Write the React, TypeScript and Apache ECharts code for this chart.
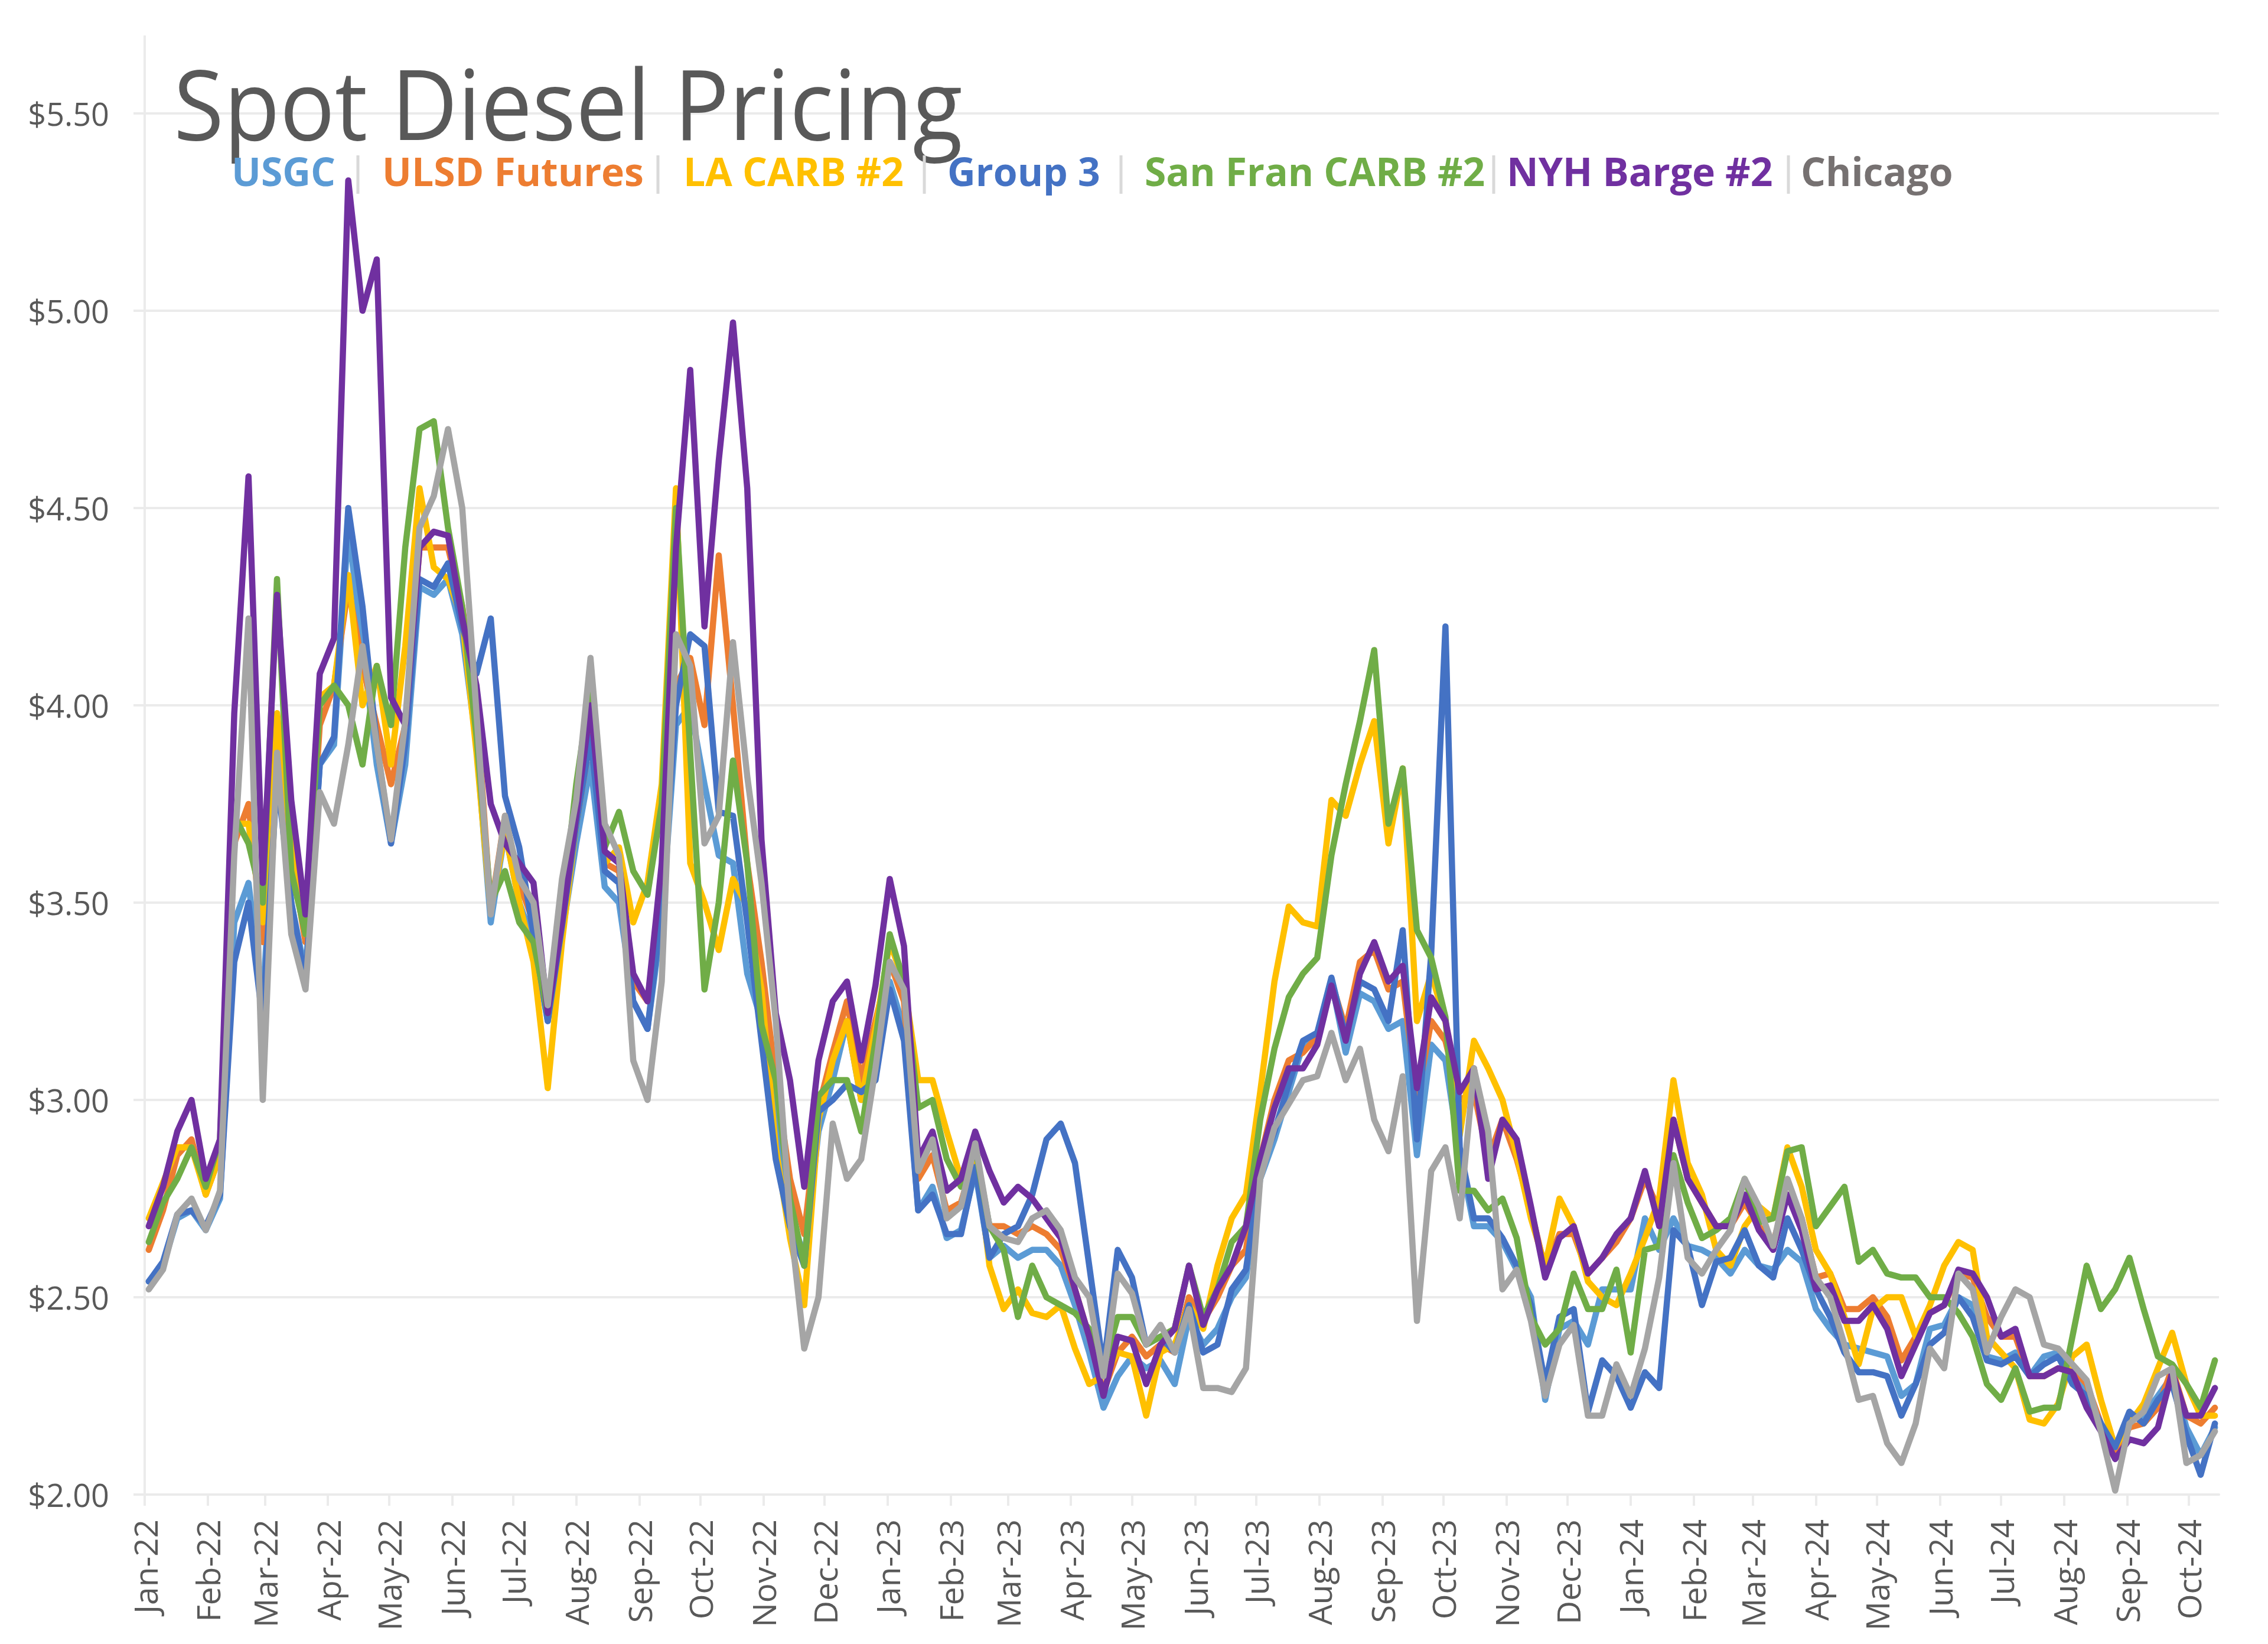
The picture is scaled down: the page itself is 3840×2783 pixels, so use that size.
import React, { useEffect, useRef } from "react";
import * as echarts from "echarts";

// ---------- data ----------
const monthLabels = [
  "Jan-22", "Feb-22", "Mar-22", "Apr-22", "May-22", "Jun-22", "Jul-22", "Aug-22", "Sep-22", "Oct-22", "Nov-22", "Dec-22",
  "Jan-23", "Feb-23", "Mar-23", "Apr-23", "May-23", "Jun-23", "Jul-23", "Aug-23", "Sep-23", "Oct-23", "Nov-23", "Dec-23",
  "Jan-24", "Feb-24", "Mar-24", "Apr-24", "May-24", "Jun-24", "Jul-24", "Aug-24", "Sep-24", "Oct-24",
];
const TOTAL_DAYS = 1020; // 2022-01-01 .. 2024-10-16
const FIRST_DAY = 2; // first weekly observation: 2022-01-03
const STEP_DAYS = 7;

const usgc = [
  2.54, 2.58, 2.70, 2.72, 2.67, 2.75, 3.45, 3.55, 3.25, 3.85,
  3.50, 3.32, 3.85, 3.90, 4.45, 4.15, 3.85, 3.65, 3.85, 4.30,
  4.28, 4.32, 4.18, 3.90, 3.45, 3.68, 3.50, 3.40, 3.20, 3.42,
  3.65, 3.85, 3.54, 3.50, 3.25, 3.18, 3.45, 3.95, 4.00, 3.80,
  3.62, 3.60, 3.32, 3.20, 2.95, 2.72, 2.60, 2.92, 3.05, 3.20,
  3.00, 3.15, 3.30, 3.18, 2.72, 2.78, 2.65, 2.67, 2.82, 2.60,
  2.63, 2.60, 2.62, 2.62, 2.58, 2.48, 2.36, 2.22, 2.30, 2.35,
  2.32, 2.34, 2.28, 2.45, 2.38, 2.42, 2.50, 2.55, 2.80, 2.90,
  3.02, 3.14, 3.16, 3.30, 3.12, 3.27, 3.25, 3.18, 3.20, 2.86,
  3.14, 3.10, 2.86, 2.68, 2.68, 2.64, 2.57, 2.50, 2.24, 2.42,
  2.44, 2.38, 2.52, 2.52, 2.52, 2.70, 2.62, 2.70, 2.63, 2.62,
  2.60, 2.56, 2.62, 2.58, 2.57, 2.62, 2.59, 2.47, 2.42, 2.38,
  2.37, 2.36, 2.35, 2.25, 2.28, 2.42, 2.43, 2.50, 2.48, 2.35,
  2.34, 2.36, 2.30, 2.35, 2.36, 2.30, 2.27, 2.18, 2.12, 2.20,
  2.20, 2.25, 2.30, 2.17, 2.10, 2.17,
];
const ulsdFutures = [
  2.62, 2.72, 2.86, 2.90, 2.76, 2.86, 3.65, 3.75, 3.40, 3.95,
  3.62, 3.40, 3.95, 4.05, 4.30, 4.10, 3.95, 3.80, 3.95, 4.40,
  4.40, 4.40, 4.25, 4.00, 3.48, 3.72, 3.55, 3.45, 3.22, 3.45,
  3.70, 3.92, 3.60, 3.58, 3.30, 3.25, 3.55, 4.05, 4.12, 3.95,
  4.38, 4.00, 3.60, 3.35, 3.05, 2.80, 2.66, 2.98, 3.12, 3.25,
  3.05, 3.20, 3.35, 3.25, 2.80, 2.86, 2.72, 2.74, 2.86, 2.68,
  2.68, 2.66, 2.68, 2.66, 2.62, 2.52, 2.40, 2.26, 2.36, 2.40,
  2.35, 2.38, 2.36, 2.50, 2.44, 2.50, 2.58, 2.62, 2.85, 3.00,
  3.10, 3.12, 3.16, 3.30, 3.18, 3.35, 3.38, 3.28, 3.30, 3.00,
  3.20, 3.15, 3.00, 3.02, 2.85, 2.95, 2.85, 2.72, 2.57, 2.66,
  2.66, 2.56, 2.60, 2.64, 2.70, 2.80, 2.72, 2.95, 2.80, 2.74,
  2.68, 2.68, 2.74, 2.68, 2.64, 2.76, 2.70, 2.55, 2.56, 2.47,
  2.47, 2.50, 2.45, 2.34, 2.40, 2.46, 2.48, 2.56, 2.55, 2.45,
  2.40, 2.40, 2.30, 2.30, 2.32, 2.32, 2.28, 2.18, 2.10, 2.17,
  2.18, 2.22, 2.32, 2.20, 2.18, 2.22,
];
const laCarb = [
  2.70, 2.79, 2.88, 2.88, 2.76, 2.86, 3.70, 3.70, 3.45, 3.98,
  3.65, 3.42, 4.02, 4.05, 4.33, 4.00, 4.10, 3.85, 4.15, 4.55,
  4.35, 4.32, 4.22, 3.88, 3.48, 3.68, 3.50, 3.35, 3.03, 3.40,
  3.70, 3.93, 3.60, 3.64, 3.45, 3.55, 3.80, 4.55, 3.60, 3.50,
  3.38, 3.56, 3.49, 3.28, 2.88, 2.65, 2.48, 2.95, 3.10, 3.20,
  3.00, 3.18, 3.40, 3.30, 3.05, 3.05, 2.92, 2.80, 2.88, 2.58,
  2.47, 2.52, 2.46, 2.45, 2.48, 2.37, 2.28, 2.30, 2.36, 2.35,
  2.20, 2.36, 2.38, 2.48, 2.42, 2.58, 2.70, 2.76, 3.02, 3.30,
  3.49, 3.45, 3.44, 3.76, 3.72, 3.85, 3.96, 3.65, 3.84, 3.20,
  3.32, 3.20, 2.91, 3.15, 3.08, 3.00, 2.86, 2.70, 2.58, 2.75,
  2.68, 2.54, 2.50, 2.48, 2.56, 2.65, 2.75, 3.05, 2.84, 2.76,
  2.62, 2.58, 2.68, 2.73, 2.70, 2.88, 2.78, 2.62, 2.56, 2.45,
  2.33, 2.47, 2.50, 2.50, 2.40, 2.48, 2.58, 2.64, 2.62, 2.40,
  2.36, 2.32, 2.19, 2.18, 2.23, 2.35, 2.38, 2.24, 2.12, 2.18,
  2.23, 2.32, 2.41, 2.28, 2.20, 2.20,
];
const group3 = [
  2.54, 2.59, 2.71, 2.72, 2.68, 2.76, 3.35, 3.50, 3.20, 3.82,
  3.50, 3.30, 3.85, 3.92, 4.50, 4.25, 3.90, 3.65, 3.90, 4.32,
  4.30, 4.36, 4.20, 4.08, 4.22, 3.77, 3.64, 3.42, 3.20, 3.44,
  3.70, 3.92, 3.58, 3.55, 3.25, 3.18, 3.48, 4.00, 4.18, 4.15,
  3.73, 3.72, 3.45, 3.15, 2.85, 2.68, 2.58, 2.97, 3.00, 3.04,
  3.02, 3.05, 3.28, 3.15, 2.72, 2.76, 2.66, 2.66, 2.83, 2.60,
  2.66, 2.68, 2.76, 2.90, 2.94, 2.84, 2.58, 2.32, 2.62, 2.55,
  2.38, 2.40, 2.36, 2.48, 2.36, 2.38, 2.52, 2.57, 2.82, 2.92,
  3.04, 3.15, 3.17, 3.31, 3.16, 3.30, 3.28, 3.20, 3.43, 2.90,
  3.37, 4.20, 2.88, 2.70, 2.70, 2.65, 2.58, 2.48, 2.28, 2.45,
  2.47, 2.21, 2.34, 2.30, 2.22, 2.31, 2.27, 2.67, 2.63, 2.48,
  2.59, 2.60, 2.67, 2.58, 2.55, 2.70, 2.62, 2.52, 2.45, 2.36,
  2.31, 2.31, 2.30, 2.20, 2.28, 2.38, 2.41, 2.50, 2.45, 2.34,
  2.33, 2.35, 2.30, 2.33, 2.35, 2.28, 2.25, 2.18, 2.12, 2.21,
  2.18, 2.24, 2.28, 2.15, 2.05, 2.18,
];
const sanFranCarb = [
  2.64, 2.74, 2.80, 2.88, 2.78, 2.90, 3.72, 3.65, 3.50, 4.32,
  3.58, 3.42, 4.00, 4.05, 4.00, 3.85, 4.10, 3.95, 4.40, 4.70,
  4.72, 4.45, 4.25, 3.92, 3.50, 3.58, 3.45, 3.40, 3.22, 3.48,
  3.80, 4.05, 3.64, 3.73, 3.58, 3.52, 3.75, 4.50, 3.88, 3.28,
  3.50, 3.86, 3.60, 3.19, 3.05, 2.75, 2.58, 3.01, 3.05, 3.05,
  2.92, 3.15, 3.42, 3.30, 2.98, 3.00, 2.85, 2.78, 2.88, 2.68,
  2.62, 2.45, 2.58, 2.50, 2.48, 2.46, 2.42, 2.32, 2.45, 2.45,
  2.38, 2.40, 2.42, 2.58, 2.45, 2.52, 2.64, 2.68, 2.95, 3.13,
  3.26, 3.32, 3.36, 3.62, 3.80, 3.96, 4.14, 3.70, 3.84, 3.43,
  3.36, 3.21, 2.77, 2.77, 2.72, 2.75, 2.65, 2.45, 2.38, 2.42,
  2.56, 2.47, 2.47, 2.57, 2.36, 2.62, 2.63, 2.86, 2.74, 2.65,
  2.67, 2.70, 2.80, 2.69, 2.70, 2.87, 2.88, 2.68, 2.73, 2.78,
  2.59, 2.62, 2.56, 2.55, 2.55, 2.50, 2.50, 2.46, 2.40, 2.28,
  2.24, 2.32, 2.21, 2.22, 2.22, 2.40, 2.58, 2.47, 2.52, 2.60,
  2.47, 2.35, 2.33, 2.28, 2.22, 2.34,
];
const nyhBarge = [
  2.68, 2.78, 2.92, 3.00, 2.80, 2.90, 3.98, 4.58, 3.55, 4.28,
  3.76, 3.47, 4.08, 4.17, 5.33, 5.00, 5.13, 4.02, 3.95, 4.40,
  4.44, 4.43, 4.22, 4.05, 3.75, 3.65, 3.60, 3.55, 3.22, 3.45,
  3.72, 4.00, 3.63, 3.60, 3.32, 3.25, 3.60, 4.40, 4.85, 4.20,
  4.62, 4.97, 4.55, 3.66, 3.22, 3.05, 2.78, 3.10, 3.25, 3.30,
  3.10, 3.29, 3.56, 3.39, 2.85, 2.92, 2.77, 2.80, 2.92, 2.82,
  2.74, 2.78, 2.75, 2.70, 2.65, 2.52, 2.40, 2.25, 2.40, 2.39,
  2.28, 2.38, 2.42, 2.58, 2.43, 2.52, 2.58, 2.68, 2.85, 2.98,
  3.08, 3.08, 3.14, 3.29, 3.15, 3.32, 3.40, 3.30, 3.34, 3.03,
  3.26, 3.20, 3.02, 3.08, 2.80, 2.95, 2.90, 2.73, 2.55, 2.65,
  2.68, 2.56, 2.60, 2.66, 2.70, 2.82, 2.68, 2.95, 2.80, 2.74,
  2.68, 2.68, 2.76, 2.67, 2.62, 2.76, 2.67, 2.52, 2.53, 2.44,
  2.44, 2.48, 2.42, 2.30, 2.38, 2.46, 2.48, 2.57, 2.56, 2.50,
  2.40, 2.42, 2.30, 2.30, 2.32, 2.31, 2.22, 2.16, 2.09, 2.14,
  2.13, 2.17, 2.31, 2.20, 2.20, 2.27,
];
const chicago = [
  2.52, 2.57, 2.71, 2.75, 2.67, 2.77, 3.62, 4.22, 3.00, 3.88,
  3.42, 3.28, 3.78, 3.70, 3.90, 4.15, 3.90, 3.66, 3.96, 4.45,
  4.53, 4.70, 4.50, 3.98, 3.47, 3.72, 3.56, 3.50, 3.24, 3.56,
  3.76, 4.12, 3.70, 3.62, 3.10, 3.00, 3.30, 4.18, 4.10, 3.65,
  3.72, 4.16, 3.82, 3.55, 3.20, 2.70, 2.37, 2.50, 2.94, 2.80,
  2.85, 3.08, 3.35, 3.28, 2.82, 2.90, 2.70, 2.73, 2.89, 2.68,
  2.65, 2.64, 2.70, 2.72, 2.67, 2.55, 2.50, 2.30, 2.56, 2.51,
  2.38, 2.43, 2.36, 2.47, 2.27, 2.27, 2.26, 2.32, 2.80, 2.93,
  2.99, 3.05, 3.06, 3.17, 3.05, 3.13, 2.95, 2.87, 3.06, 2.44,
  2.82, 2.88, 2.70, 3.08, 2.92, 2.52, 2.57, 2.44, 2.25, 2.38,
  2.43, 2.20, 2.20, 2.33, 2.25, 2.37, 2.55, 2.84, 2.60, 2.56,
  2.62, 2.67, 2.80, 2.73, 2.63, 2.80, 2.70, 2.55, 2.50, 2.38,
  2.24, 2.25, 2.13, 2.08, 2.18, 2.37, 2.32, 2.56, 2.52, 2.36,
  2.45, 2.52, 2.50, 2.38, 2.37, 2.33, 2.29, 2.16, 2.01, 2.18,
  2.21, 2.30, 2.32, 2.08, 2.10, 2.16,
];

const seriesDefs = [
  { name: "USGC", color: "#5B9BD5", data: usgc },
  { name: "ULSD Futures", color: "#ED7D31", data: ulsdFutures },
  { name: "LA CARB #2", color: "#FFC000", data: laCarb },
  { name: "Group 3", color: "#4472C4", data: group3 },
  { name: "San Fran CARB #2", color: "#70AD47", data: sanFranCarb },
  { name: "NYH Barge #2", color: "#7030A0", data: nyhBarge },
  { name: "Chicago", color: "#A5A5A5", data: chicago },
];

// ---------- layout ----------
const FONT = "'Open Sans', 'Noto Sans', sans-serif";
const GRID = { left: 245, right: 83, top: 192, bottom: 253 };
const legendLayout = [
  { text: "USGC", color: "#5B9BD5", x: 392 },
  { text: "ULSD Futures", color: "#ED7D31", x: 647 },
  { text: "LA CARB #2", color: "#FFC000", x: 1157 },
  { text: "Group 3", color: "#4472C4", x: 1604 },
  { text: "San Fran CARB #2", color: "#70AD47", x: 1938 },
  { text: "NYH Barge #2", color: "#7030A0", x: 2551 },
  { text: "Chicago", color: "#767171", x: 3049 },
];
const separatorX = [606, 1114, 1565, 1898, 2529, 3028];

export default function App() {
  const ref = useRef<HTMLDivElement>(null);

  useEffect(() => {
    const el = ref.current;
    if (!el) return;
    const chart = echarts.init(el, null, { renderer: "svg" });

    const dayMs = 86400000;
    const base = Date.UTC(2022, 0, 1);
    const categories = Array.from({ length: TOTAL_DAYS }, (_, d) =>
      new Date(base + d * dayMs).toISOString().slice(0, 10)
    );
    const monthStart = new Map<number, string>();
    monthLabels.forEach((lab, m) => {
      const idx = Math.round((Date.UTC(2022, m, 1) - base) / dayMs);
      monthStart.set(idx, lab);
    });

    const gridColor = "#ebebeb";

    const graphics: any[] = [
      {
        type: "line",
        shape: { x1: GRID.left, y1: 60, x2: GRID.left, y2: GRID.top },
        style: { stroke: gridColor, lineWidth: 4 },
        silent: true,
      },
      {
        type: "text",
        x: 294,
        y: 173,
        scaleX: 0.945,
        z: 10,
        style: {
          text: "Spot Diesel Pricing",
          fontSize: 164,
          fontFamily: FONT,
          fill: "#595959",
          align: "left",
          verticalAlign: "middle",
          textAlign: "left",
          textVerticalAlign: "middle",
        },
      },
    ];
    legendLayout.forEach((it) => {
      graphics.push({
        type: "text",
        x: it.x,
        y: 289,
        z: 10,
        style: {
          text: it.text,
          fontSize: 66,
          fontWeight: "bold",
          fontFamily: FONT,
          fill: it.color,
          align: "left",
          verticalAlign: "middle",
          textAlign: "left",
          textVerticalAlign: "middle",
        },
      });
    });
    separatorX.forEach((x) => {
      graphics.push({
        type: "rect",
        z: 10,
        shape: { x: x - 2.5, y: 263, width: 5, height: 65 },
        style: { fill: "#d9d9d9" },
      });
    });

    chart.setOption({
      animation: false,
      backgroundColor: "#ffffff",
      grid: { ...GRID, containLabel: false },
      graphic: graphics,
      xAxis: {
        type: "category",
        data: categories,
        boundaryGap: false,
        axisLine: { show: true, lineStyle: { color: gridColor, width: 4 } },
        axisTick: {
          show: true,
          interval: (index: number) => monthStart.has(index),
          length: 19,
          lineStyle: { color: gridColor, width: 4 },
        },
        axisLabel: {
          show: true,
          interval: (index: number) => monthStart.has(index),
          formatter: (_v: string, index: number) => monthStart.get(index) ?? "",
          rotate: 90,
          margin: 42,
          fontSize: 55,
          fontFamily: FONT,
          color: "#595959",
        },
        splitLine: { show: false },
      },
      yAxis: {
        type: "value",
        min: 2,
        max: 5.5,
        interval: 0.5,
        axisLine: { show: true, lineStyle: { color: gridColor, width: 4 } },
        axisTick: { show: true, length: 19, lineStyle: { color: gridColor, width: 4 } },
        axisLabel: {
          formatter: (v: number) => "$" + v.toFixed(2),
          margin: 60,
          fontSize: 54,
          fontFamily: FONT,
          color: "#595959",
        },
        splitLine: { show: true, lineStyle: { color: gridColor, width: 4 } },
      },
      series: seriesDefs.map((s) => ({
        name: s.name,
        type: "line",
        data: s.data.map((v, i) => [FIRST_DAY + STEP_DAYS * i, v]),
        showSymbol: false,
        symbol: "none",
        lineStyle: { color: s.color, width: 10.5, cap: "round", join: "round" },
        itemStyle: { color: s.color },
        emphasis: { disabled: true },
      })),
    });

    return () => {
      chart.dispose();
    };
  }, []);

  return (
    <div
      ref={ref}
      style={{ position: "fixed", left: 0, top: 0, width: 3840, height: 2783, background: "#fff" }}
    />
  );
}
